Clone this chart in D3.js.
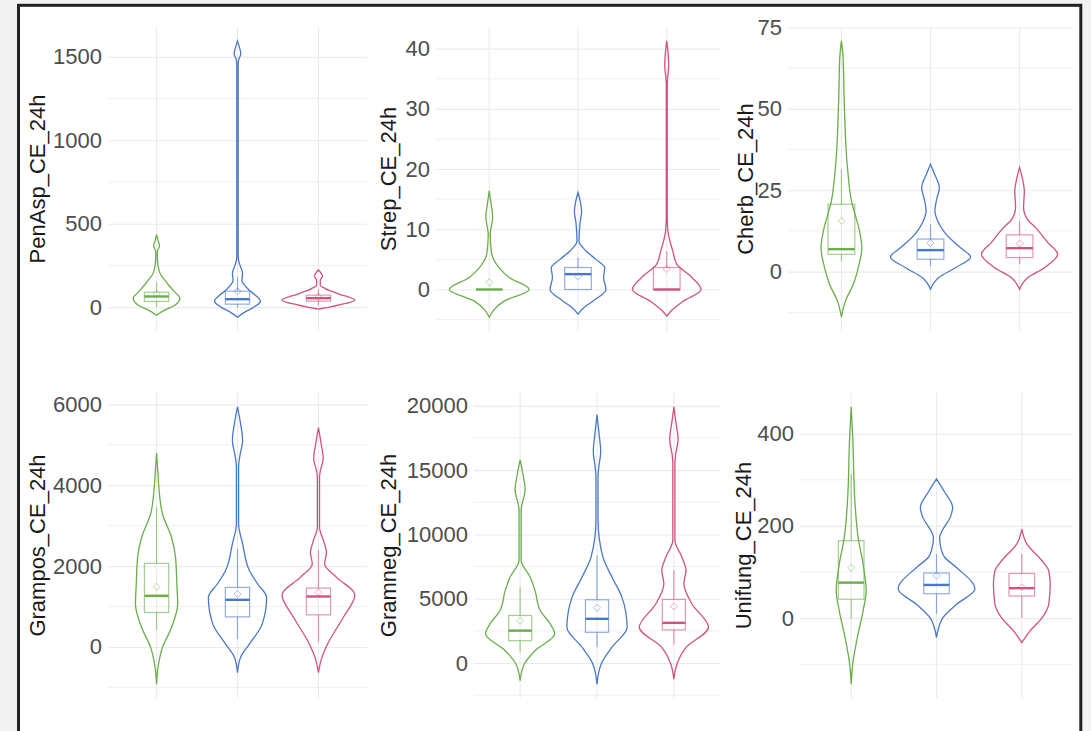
<!DOCTYPE html>
<html>
<head>
<meta charset="utf-8">
<script src="https://cdn.jsdelivr.net/npm/d3@7"></script>
<style>
  html, body { margin: 0; padding: 0; background: #f3f3f3; }
  svg { display: block; }
</style>
</head>
<body>
<svg id="chart" width="1091" height="731"></svg>
<script>
// Three treatment groups per measure; the x axis carries no labels.
const groups = ["g1", "g2", "g3"];
const groupColors = ["#6aae4a", "#4a78c8", "#d0527f"];

// Violin outlines: [value, relative half-width] pairs (1 = full 0.45 band half-width)
const penAspDensity = [
  [[435,0],[400,0.04],[367,0.08],[340,0.03],[320,0.02],[250,0.04],[200,0.1],[170,0.2],[133,0.33],[90,0.5],[54,0.64],[12,0.5],[-18,0.22],[-48,0]],
  [[1596,0],[1560,0.05],[1518,0.09],[1480,0.03],[1450,0.02],[300,0.02],[271,0.04],[200,0.14],[160,0.12],[130,0.2],[100,0.33],[70,0.5],[36,0.63],[0,0.45],[-30,0.2],[-60,0]],
  [[223,0],[205,0.07],[187,0.11],[160,0.05],[133,0.05],[110,0.2],[80,0.55],[42,1.0],[15,0.6],[0,0.3],[-12,0]]
];
const strepDensity = [
  [[16.4,0],[14.5,0.04],[12,0.085],[10,0.04],[9.2,0.025],[6,0.06],[3.6,0.25],[2,0.5],[0,1.0],[-1.9,0.38],[-3.5,0.1],[-4.6,0]],
  [[16.1,0],[14.5,0.06],[13,0.09],[11,0.05],[8,0.025],[6.4,0.2],[5,0.45],[3.6,0.67],[2,0.64],[0,0.7],[-1.9,0.38],[-3,0.15],[-4.1,0]],
  [[41.3,0],[39.5,0.03],[37.2,0.05],[35,0.02],[34,0.012],[12,0.012],[9.7,0.03],[6.4,0.15],[4.2,0.25],[2,0.63],[0,0.86],[-2,0.4],[-3.5,0.12],[-4.4,0]]
];
const cherbDensity = [
  [[70.9,0],[66,0.04],[52,0.07],[32,0.15],[21.7,0.25],[12.5,0.45],[7.3,0.51],[1.2,0.42],[-3.8,0.3],[-9,0.1],[-14,0]],
  [[33,0],[30,0.1],[25.8,0.22],[22,0.15],[18.7,0.11],[15,0.2],[11.6,0.38],[7.3,0.75],[4.5,1.0],[1.2,0.62],[-1.9,0.2],[-5.4,0]],
  [[32,0],[28,0.08],[24.8,0.12],[19.7,0.1],[16,0.2],[13.5,0.4],[9,0.7],[5.3,0.95],[1.2,0.62],[-1.9,0.2],[-5.4,0]]
];
const gramposDensity = [
  [[4797,0],[4400,0.03],[4045,0.055],[3300,0.16],[2712,0.41],[2216,0.52],[1500,0.56],[1067,0.58],[479,0.41],[-17,0.16],[-420,0.055],[-920,0]],
  [[5938,0],[5600,0.07],[5112,0.14],[4700,0.06],[4450,0.03],[3050,0.03],[2556,0.14],[1886,0.33],[1563,0.55],[1223,0.8],[571,0.68],[74,0.33],[-265,0.08],[-638,0]],
  [[5427,0],[5050,0.07],[4657,0.13],[4350,0.05],[4201,0.03],[2960,0.03],[2600,0.15],[2340,0.22],[2052,0.17],[1720,0.5],[1290,1.0],[727,0.68],[74,0.25],[-300,0.08],[-638,0]]
];
const gramnegDensity = [
  [[15800,0],[14700,0.08],[13460,0.145],[12400,0.06],[11900,0.03],[8000,0.03],[6690,0.29],[5650,0.43],[4090,0.58],[3050,0.87],[2270,1.0],[960,0.43],[-80,0.12],[-1380,0]],
  [[19320,0],[17800,0.06],[16450,0.107],[15200,0.05],[14500,0.03],[11100,0.03],[8250,0.17],[6690,0.43],[5125,0.72],[2780,0.87],[1220,0.43],[-80,0.12],[-1640,0]],
  [[19920,0],[18700,0.06],[17370,0.12],[16200,0.05],[15550,0.03],[9550,0.03],[8250,0.23],[7210,0.35],[6170,0.29],[4610,0.52],[2780,1.0],[1220,0.35],[-80,0.09],[-1250,0]]
];
const unifungDensity = [
  [[458,0],[393,0.04],[248,0.1],[175,0.18],[117,0.31],[59,0.39],[16,0.31],[-42,0.16],[-93,0.05],[-143,0]],
  [[302,0],[275,0.2],[240,0.42],[219,0.36],[190,0.15],[175,0.08],[150,0.12],[132,0.21],[110,0.52],[63,1.0],[30,0.52],[0,0.16],[-42,0]],
  [[193,0],[161,0.13],[125,0.52],[103,0.7],[74,0.74],[30,0.7],[0,0.52],[-28,0.21],[-53,0]]
];

// Box summaries: [lower whisker, Q1, median, Q3, upper whisker, mean]
const penAspBoxes   = [[0,34,64,90,150,80],[0,18,48,96,180,95],[10,36,54,72,110,60]];
const strepBoxes    = [[0,0,0,0,0,1.2],[0,0,2.55,3.65,5.3,2.2],[0,0,0,3.65,6.4,3.4]];
const cherbBoxes    = [[3.3,5.3,6.9,20.7,31.5,15.6],[1.7,3.8,6.6,10,14.6,8.8],[2.3,4.3,7.2,11.3,15.6,8.6]];
const gramposBoxes  = [[414,851,1265,2068,3457,1489],[191,744,1166,1472,2424,1308],[132,794,1248,1456,2400,1347]];
const gramnegBoxes  = [[880,1740,2520,3700,5900,3300],[1220,2390,3440,4920,8380,4300],[1430,2580,3125,4945,7210,4400]];
const unifungBoxes  = [[0,41,77,168,313,109],[9,53,72,98,139,92],[1,48,65,97,139,67]];

// Axis titles and major tick values
const panelTitles = ["PenAsp_CE_24h","Strep_CE_24h","Cherb_CE_24h","Grampos_CE_24h","Gramneg_CE_24h","Unifung_CE_24h"];
const penAspTicks  = [0, 500, 1000, 1500];
const strepTicks   = [0, 10, 20, 30, 40];
const cherbTicks   = [0, 25, 50, 75];
const gramposTicks = [0, 2000, 4000, 6000];
const gramnegTicks = [0, 5000, 10000, 15000, 20000];
const unifungTicks = [0, 200, 400];

const densities = [penAspDensity, strepDensity, cherbDensity, gramposDensity, gramnegDensity, unifungDensity];
const boxes = [penAspBoxes, strepBoxes, cherbBoxes, gramposBoxes, gramnegBoxes, unifungBoxes];
const ticks = [penAspTicks, strepTicks, cherbTicks, gramposTicks, gramnegTicks, unifungTicks];

// Panel geometry: plot rectangle and axis-title centre
const layout = [
  { x0: 108, x1: 367, y0: 27,  y1: 331, titleX: 37 },
  { x0: 436, x1: 720, y0: 27,  y1: 331, titleX: 388 },
  { x0: 788, x1: 1073, y0: 27, y1: 331, titleX: 745 },
  { x0: 108, x1: 367, y0: 393, y1: 698, titleX: 37 },
  { x0: 474, x1: 720, y0: 393, y1: 698, titleX: 388 },
  { x0: 800, x1: 1073, y0: 393, y1: 698, titleX: 743 }
];

const svg = d3.select("#chart");

// Framed white canvas
svg.append("rect")
  .attr("x", 18.5).attr("y", 5.3)
  .attr("width", 1062.3).attr("height", 760)
  .attr("fill", "#ffffff")
  .attr("stroke", "#222222")
  .attr("stroke-width", 3);

const FONT = "'Liberation Sans', Arial, sans-serif";

layout.forEach((L, p) => {
  const g = svg.append("g");
  const dens = densities[p];
  const bx = boxes[p];

  // y domain: data extent with 5% expansion
  const allVals = dens.flat().map(d => d[0]);
  const lo = d3.min(allVals), hi = d3.max(allVals);
  const pad = (hi - lo) * 0.05;
  const y = d3.scaleLinear().domain([lo - pad, hi + pad]).range([L.y1, L.y0]);
  // discrete positions 1..3 with 0.6 expansion
  const x = d3.scaleLinear().domain([0.4, 3.6]).range([L.x0, L.x1]);

  // minor gridlines halfway between major ticks
  const tk = ticks[p];
  const step = tk[1] - tk[0];
  const minors = d3.range(tk[0] - step / 2, tk[tk.length - 1] + step, step)
    .filter(v => v >= y.domain()[0] && v <= y.domain()[1]);
  g.selectAll(".minor").data(minors).join("line")
    .attr("x1", L.x0).attr("x2", L.x1)
    .attr("y1", d => y(d)).attr("y2", d => y(d))
    .attr("stroke", "#f0f0f0").attr("stroke-width", 1);

  // vertical gridlines at each group
  g.selectAll(".vgrid").data(groups).join("line")
    .attr("x1", (d, i) => x(i + 1)).attr("x2", (d, i) => x(i + 1))
    .attr("y1", L.y0).attr("y2", L.y1)
    .attr("stroke", "#ebebeb").attr("stroke-width", 1.1);

  // y axis with major gridlines
  const axis = g.append("g")
    .attr("transform", `translate(${L.x0},0)`)
    .call(d3.axisLeft(y).tickValues(tk).tickSize(-(L.x1 - L.x0)).tickPadding(6).tickFormat(d3.format("d")));
  axis.select(".domain").remove();
  axis.selectAll(".tick line").attr("stroke", "#ebebeb").attr("stroke-width", 1.1);
  axis.selectAll(".tick text")
    .attr("fill", "#4d4d4d")
    .style("font-family", FONT)
    .style("font-size", "22px");

  // axis title
  g.append("text")
    .attr("transform", `translate(${L.titleX},${(L.y0 + L.y1) / 2}) rotate(-90)`)
    .attr("text-anchor", "middle")
    .attr("dominant-baseline", "central")
    .attr("fill", "#1a1a1a")
    .style("font-family", FONT)
    .style("font-size", "22px")
    .text(panelTitles[p]);

  // violins
  dens.forEach((pts, i) => {
    const cx = i + 1;
    const area = d3.area()
      .y(d => y(d[0]))
      .x0(d => x(cx - 0.45 * d[1]))
      .x1(d => x(cx + 0.45 * d[1]))
      .curve(d3.curveMonotoneY);
    g.append("path")
      .attr("d", area(pts))
      .attr("fill", "none")
      .attr("stroke", groupColors[i])
      .attr("stroke-width", 1.3);
  });

  // box plots
  bx.forEach((b, i) => {
    const cx = i + 1, col = groupColors[i];
    const [wlo, q1, med, q3, whi, mean] = b;
    const bl = x(cx - 0.15), br = x(cx + 0.15), xm = x(cx);
    const light = { stroke: col, "stroke-opacity": 0.6, "stroke-width": 1.2 };
    const line = (x1, y1, x2, y2, st) => {
      const l = g.append("line").attr("x1", x1).attr("y1", y1).attr("x2", x2).attr("y2", y2);
      Object.entries(st).forEach(([k, v]) => l.attr(k, v));
    };
    line(xm, y(q3), xm, y(whi), light);
    line(xm, y(q1), xm, y(wlo), light);
    if (q3 > q1) {
      g.append("rect")
        .attr("x", bl).attr("y", y(q3))
        .attr("width", br - bl).attr("height", y(q1) - y(q3))
        .attr("fill", "none")
        .attr("stroke", col).attr("stroke-opacity", 0.6).attr("stroke-width", 1.2);
    }
    line(bl, y(med), br, y(med), { stroke: col, "stroke-width": 2.4 });
    g.append("path")
      .attr("d", d3.symbol(d3.symbolDiamond2, 32)())
      .attr("transform", `translate(${xm},${y(mean)})`)
      .attr("fill", "none")
      .attr("stroke", col).attr("stroke-opacity", 0.45).attr("stroke-width", 1);
  });
});
</script>
</body>
</html>
